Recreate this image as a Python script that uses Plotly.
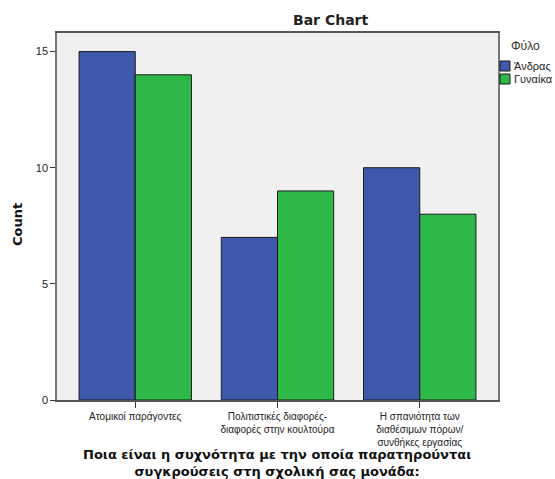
import plotly.graph_objects as go

categories = ["Ατομικοί παράγοντες",
              "Πολιτιστικές διαφορές-<br>διαφορές στην κουλτούρα",
              "Η σπανιότητα των<br>διαθέσιμων πόρων/<br>συνθήκες εργασίας"]
series_names = ["Άνδρας", "Γυναίκα"]
men = [15, 7, 10]
women = [14, 9, 8]
y_ticks = [0, 5, 10, 15]
colors = ["#3e58ac", "#2eb848"]

font = "Liberation Sans, Arial, sans-serif"
bold_font = "DejaVu Sans, Liberation Sans, sans-serif"
W, H = 555, 479
L, R, T, B = 57, 57, 33, 79
pw, ph = W - L - R, H - T - B


def px_x(x):
    return (x - L) / pw


def px_y(y):
    return (H - B - y) / ph


fig = go.Figure()
for name, vals, col in zip(series_names, [men, women], colors):
    fig.add_trace(go.Bar(x=[0, 1, 2], y=vals, name=name,
                         marker=dict(color=col, line=dict(color="#1a1a1a", width=1))))

# legend drawn at the right of the plot, SPSS style
shapes = []
annotations = [
    dict(text="Φύλο", x=px_x(525), y=px_y(46), xref="paper", yref="paper",
         showarrow=False, xanchor="center", yanchor="middle",
         font=dict(size=12, color="#333")),
]
for i, (name, col) in enumerate(zip(series_names, colors)):
    y0 = 61 + i * 13
    shapes.append(dict(type="rect", xref="paper", yref="paper",
                       x0=px_x(500), x1=px_x(510), y0=px_y(y0), y1=px_y(y0 + 10),
                       fillcolor=col, line=dict(color="#1a1a1a", width=1)))
    annotations.append(dict(text=name, x=px_x(512), y=px_y(y0 + 5), xref="paper",
                            yref="paper", showarrow=False, xanchor="left",
                            yanchor="middle", font=dict(size=11, color="#222")))

annotations += [
    dict(text="<b>Bar Chart</b>", x=px_x(330), y=px_y(20), xref="paper", yref="paper",
         xanchor="center", yanchor="middle", showarrow=False,
         font=dict(family=bold_font, size=14, color="#222")),
    dict(text="<b>Count</b>", textangle=-90, x=px_x(18), y=px_y(225), xref="paper",
         yref="paper", xanchor="center", yanchor="middle", showarrow=False,
         font=dict(family=bold_font, size=13, color="#111")),
    dict(text="<b>Ποια είναι η συχνότητα με την οποία παρατηρούνται<br>συγκρούσεις στη σχολική σας μονάδα:</b>",
         x=px_x(277), y=px_y(463), xref="paper", yref="paper", xanchor="center",
         yanchor="middle", showarrow=False,
         font=dict(family=bold_font, size=13, color="#111")),
]

fig.update_layout(
    width=W, height=H,
    margin=dict(l=L, r=R, t=T, b=B, autoexpand=False),
    barmode="group", bargap=0.21, bargroupgap=0,
    plot_bgcolor="#f0f0f0", paper_bgcolor="white",
    font=dict(family=font, size=11, color="#222"),
    showlegend=False,
    xaxis=dict(range=[-0.55, 2.55], tickvals=[0, 1, 2], ticktext=categories,
               ticks="outside", ticklen=6, tickcolor="#333", showgrid=False,
               showline=True, linecolor="#555", linewidth=1.5, mirror=True,
               tickfont=dict(size=10), zeroline=False, automargin=False),
    yaxis=dict(range=[0, 15.8], tickvals=y_ticks, ticks="outside", ticklen=5,
               tickcolor="#333", showgrid=False, showline=True, linecolor="#777",
               linewidth=1.5, mirror=True, zeroline=False, tickfont=dict(size=11),
               automargin=False),
    shapes=shapes,
    annotations=annotations,
)
fig.write_html("out.html")
